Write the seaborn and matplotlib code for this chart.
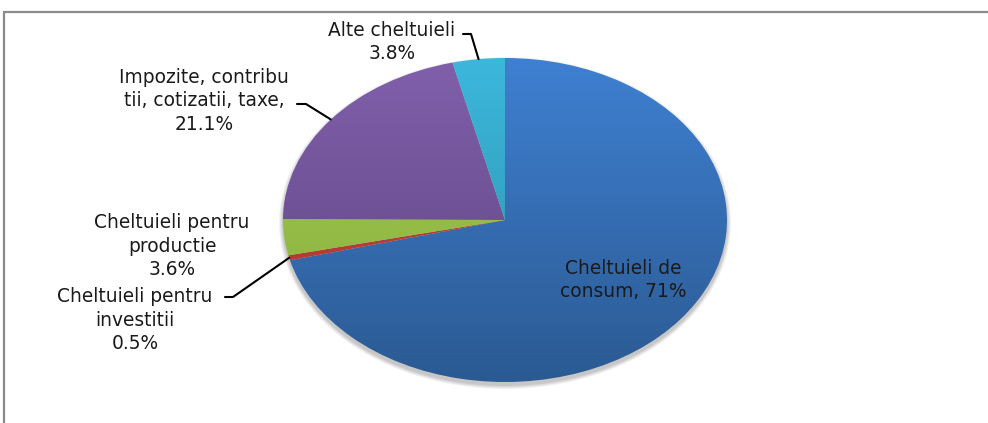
import numpy as np
import matplotlib.pyplot as plt
import matplotlib.colors as mcolors
from matplotlib.patches import Ellipse
from matplotlib.lines import Line2D
import seaborn as sns

# date
categorii = ["Cheltuieli de consum", "Cheltuieli pentru investitii",
             "Cheltuieli pentru productie", "Impozite, contributii, cotizatii, taxe",
             "Alte cheltuieli"]
procente = [71, 0.5, 3.6, 21.1, 3.8]
etichete = ["Cheltuieli de\nconsum, 71%",
            "Cheltuieli pentru\ninvestitii\n0.5%",
            "Cheltuieli pentru\nproductie\n3.6%",
            "Impozite, contribu\ntii, cotizatii, taxe,\n21.1%",
            "Alte cheltuieli\n3.8%"]

culori_sus = ["#3f80d2", "#c8443c", "#a2cc52", "#8160ab", "#3cb8dc"]
culori_jos = ["#2b5a92", "#a83530", "#86ad3c", "#5b4380", "#2a8ca6"]

# layout (pixeli)
W, H = 988, 423
cx, cy, rx, ry = 505, 220, 222, 162
# pozitie text (centru), capat linie ghid (None = fara linie)
poz_text = [(623, 280), (135, 320), (172, 246), (204, 101), (392, 42)]
capat_linie = [None, [(225, 297), (233, 297)], None,
               [(297, 104), (306, 104)], [(463, 34), (471, 34)]]


def px(x, y):
    return (x - cx) / rx, (cy - y) / ry


sns.set_theme(style="white")
plt.rcParams['font.family'] = ['DejaVu Sans']

fig = plt.figure(figsize=(W / 100, H / 100), dpi=100)
ax = fig.add_axes([0, 0, 1, 1])

# umbra
for i, a in enumerate([0.05, 0.05, 0.06, 0.07]):
    d = 4 - i
    ax.add_patch(Ellipse(px(cx, cy + 3), 2 + d * 2 / rx, 2 + d * 2 / ry,
                         color="black", alpha=a, lw=0, zorder=0))

wedges, _ = ax.pie(procente, startangle=90, counterclock=False, radius=1,
                   center=(0, 0), wedgeprops=dict(linewidth=0))

grad = np.linspace(0, 1, 256).reshape(-1, 1)
for w, c1, c2 in zip(wedges, culori_sus, culori_jos):
    w.set_facecolor("none")
    cmap = mcolors.LinearSegmentedColormap.from_list("g", [c1, c2])
    im = ax.imshow(grad, cmap=cmap, extent=[-1, 1, -1, 1], origin="upper",
                   aspect="auto", zorder=1, interpolation="bilinear")
    im.set_clip_path(w)

ax.set_aspect("auto")
ax.set_xlim(px(0, 0)[0], px(W, 0)[0])
ax.set_ylim(px(0, H)[1], px(0, 0)[1])
ax.axis("off")

# etichete
for w, et, (tx, ty), cap in zip(wedges, etichete, poz_text, capat_linie):
    ax.text(*px(tx, ty), et, ha="center", va="center", fontsize=13.4,
            linespacing=1.27, color="#1a1a1a", zorder=5)
    if cap is not None:
        mid = np.deg2rad((w.theta1 + w.theta2) / 2)
        xs = [px(*cap[0])[0], px(*cap[1])[0], np.cos(mid)]
        ys = [px(*cap[0])[1], px(*cap[1])[1], np.sin(mid)]
        ax.plot(xs, ys, color="black", lw=1.5, zorder=4)

# chenar
fig.add_artist(Line2D([4 / W, 1], [1 - 12 / H, 1 - 12 / H], color="#8a8a8a",
                      lw=1.6, transform=fig.transFigure))
fig.add_artist(Line2D([4 / W, 4 / W], [0, 1 - 12 / H], color="#8a8a8a",
                      lw=1.6, transform=fig.transFigure))

fig.savefig("out.png", dpi=100)
